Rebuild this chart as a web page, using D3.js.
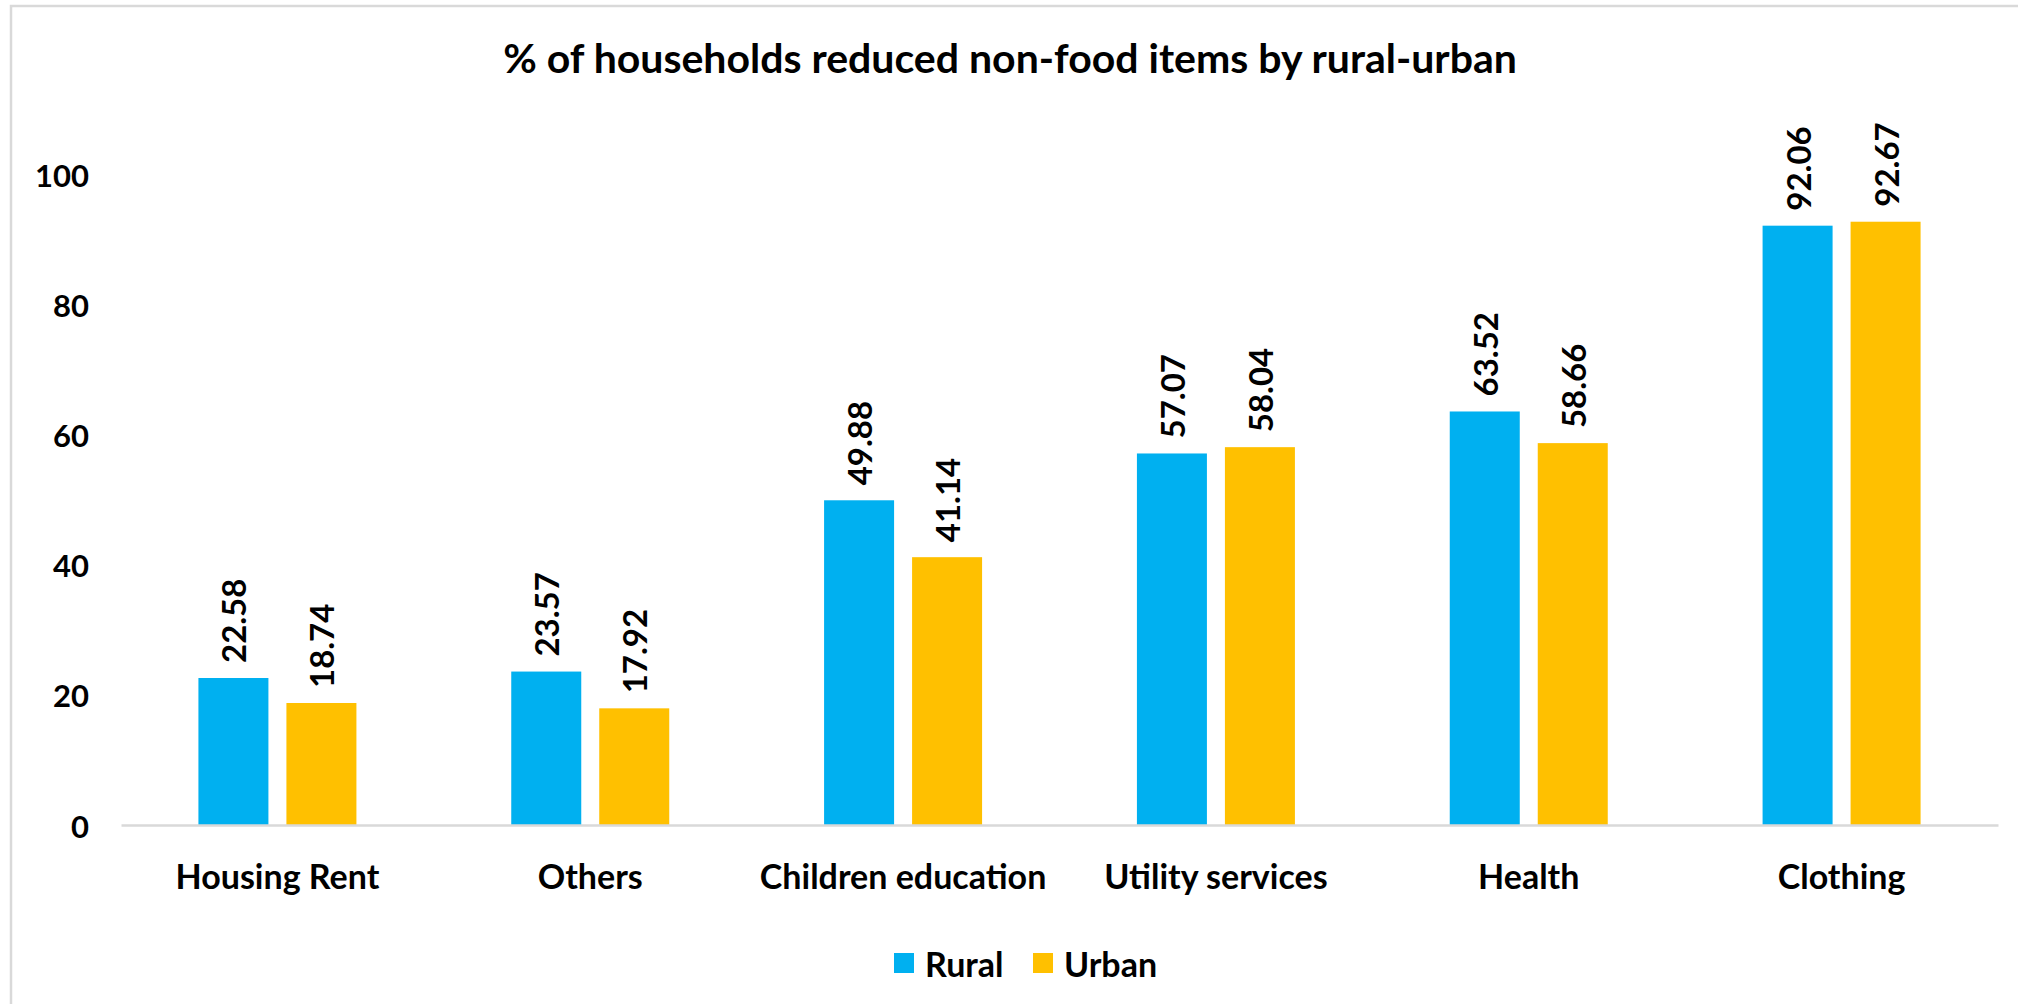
<!DOCTYPE html>
<html>
<head>
<meta charset="utf-8">
<script src="https://cdn.jsdelivr.net/npm/d3@7"></script>
<style>
  html, body { margin: 0; padding: 0; background: #ffffff; }
  svg { display: block; }
  text { font-family: Lato, "Open Sans", sans-serif; font-weight: 700; fill: #000; }
</style>
</head>
<body>
<svg id="chart" width="2018" height="1004"></svg>
<script>
// Chart data
const categories = ["Housing Rent", "Others", "Children education", "Utility services", "Health", "Clothing"];
const seriesNames = ["Rural", "Urban"];
const ruralValues = [22.58, 23.57, 49.88, 57.07, 63.52, 92.06];
const urbanValues = [18.74, 17.92, 41.14, 58.04, 58.66, 92.67];
const seriesColors = ["#00B0F0", "#FFC000"];
const yTickValues = [0, 20, 40, 60, 80, 100];
const chartTitle = "% of households reduced non-food items by rural-urban";

const seriesValues = [ruralValues, urbanValues];

const svg = d3.select("#chart");
const W = 2018, H = 1004;

// Outer frame
svg.append("rect")
  .attr("x", 11).attr("y", 6)
  .attr("width", W + 20).attr("height", H + 20)
  .attr("fill", "#fff")
  .attr("stroke", "#d9d9d9").attr("stroke-width", 2.5);

const plot = { left: 121, right: 1998, top: 174, bottom: 825 };

const x = d3.scaleBand()
  .domain(categories)
  .range([plot.left, plot.right])
  .paddingInner(0).paddingOuter(0);

// Pair of bars centred in each category
const groupWidth = 158;
const xs = d3.scaleBand()
  .domain(seriesNames)
  .range([0, groupWidth])
  .paddingInner(0.2045).paddingOuter(0);

const y = d3.scaleLinear().domain([0, 100]).range([plot.bottom, plot.top]);

// Title
svg.append("text")
  .attr("x", 1010).attr("y", 57)
  .attr("text-anchor", "middle")
  .attr("dominant-baseline", "central")
  .style("font-size", "41px")
  .text(chartTitle);

// Y axis labels (no line, no ticks)
const yAxis = d3.axisLeft(y).tickValues(yTickValues).tickSize(0).tickPadding(0).tickFormat(d3.format("d"));
const gy = svg.append("g").attr("transform", `translate(89,0)`).call(yAxis);
gy.select(".domain").remove();
gy.selectAll("text")
  .attr("x", 0).attr("dy", null)
  .attr("dominant-baseline", "central")
  .style("font-family", "Lato, sans-serif")
  .style("font-weight", 700)
  .style("font-size", "31px")
  .attr("fill", "#000");

// Bars
const rows = categories.map((c, i) => ({ cat: c, vals: seriesNames.map((s, j) => ({ s, j, v: seriesValues[j][i] })) }));

const groups = svg.append("g").selectAll("g")
  .data(rows).join("g")
  .attr("transform", d => `translate(${x(d.cat) + x.bandwidth() / 2 - groupWidth / 2},0)`);

groups.selectAll("rect")
  .data(d => d.vals).join("rect")
  .attr("x", d => xs(d.s))
  .attr("y", d => y(d.v))
  .attr("width", xs.bandwidth())
  .attr("height", d => y(0) - y(d.v))
  .attr("fill", d => seriesColors[d.j]);

// Value labels, rotated above each bar
groups.selectAll("text.val")
  .data(d => d.vals).join("text")
  .attr("class", "val")
  .attr("transform", d => `translate(${xs(d.s) + xs.bandwidth() / 2},${y(d.v) - 15}) rotate(-90)`)
  .attr("text-anchor", "start")
  .attr("dominant-baseline", "central")
  .style("font-size", "33px")
  .text(d => d.v.toFixed(2));

// X axis line and category labels
const xAxis = d3.axisBottom(x).tickSize(0).tickPadding(0);
const gx = svg.append("g").attr("transform", `translate(0,${plot.bottom})`).call(xAxis);
gx.select(".domain").attr("stroke", "#d9d9d9").attr("stroke-width", 2.5);
gx.selectAll("text")
  .attr("y", 50).attr("dy", null)
  .attr("dominant-baseline", "central")
  .style("font-family", "Lato, sans-serif")
  .style("font-weight", 700)
  .style("font-size", "34px")
  .attr("fill", "#000");

// Legend
const legendItems = [{ name: seriesNames[0], color: seriesColors[0], x: 894 }, { name: seriesNames[1], color: seriesColors[1], x: 1033 }];
const lg = svg.append("g").selectAll("g").data(legendItems).join("g")
  .attr("transform", d => `translate(${d.x},963)`);
lg.append("rect").attr("x", 0).attr("y", -10).attr("width", 20).attr("height", 20).attr("fill", d => d.color);
lg.append("text").attr("x", 31).attr("y", 0)
  .attr("dominant-baseline", "central")
  .style("font-size", "34px")
  .text(d => d.name);
</script>
</body>
</html>
